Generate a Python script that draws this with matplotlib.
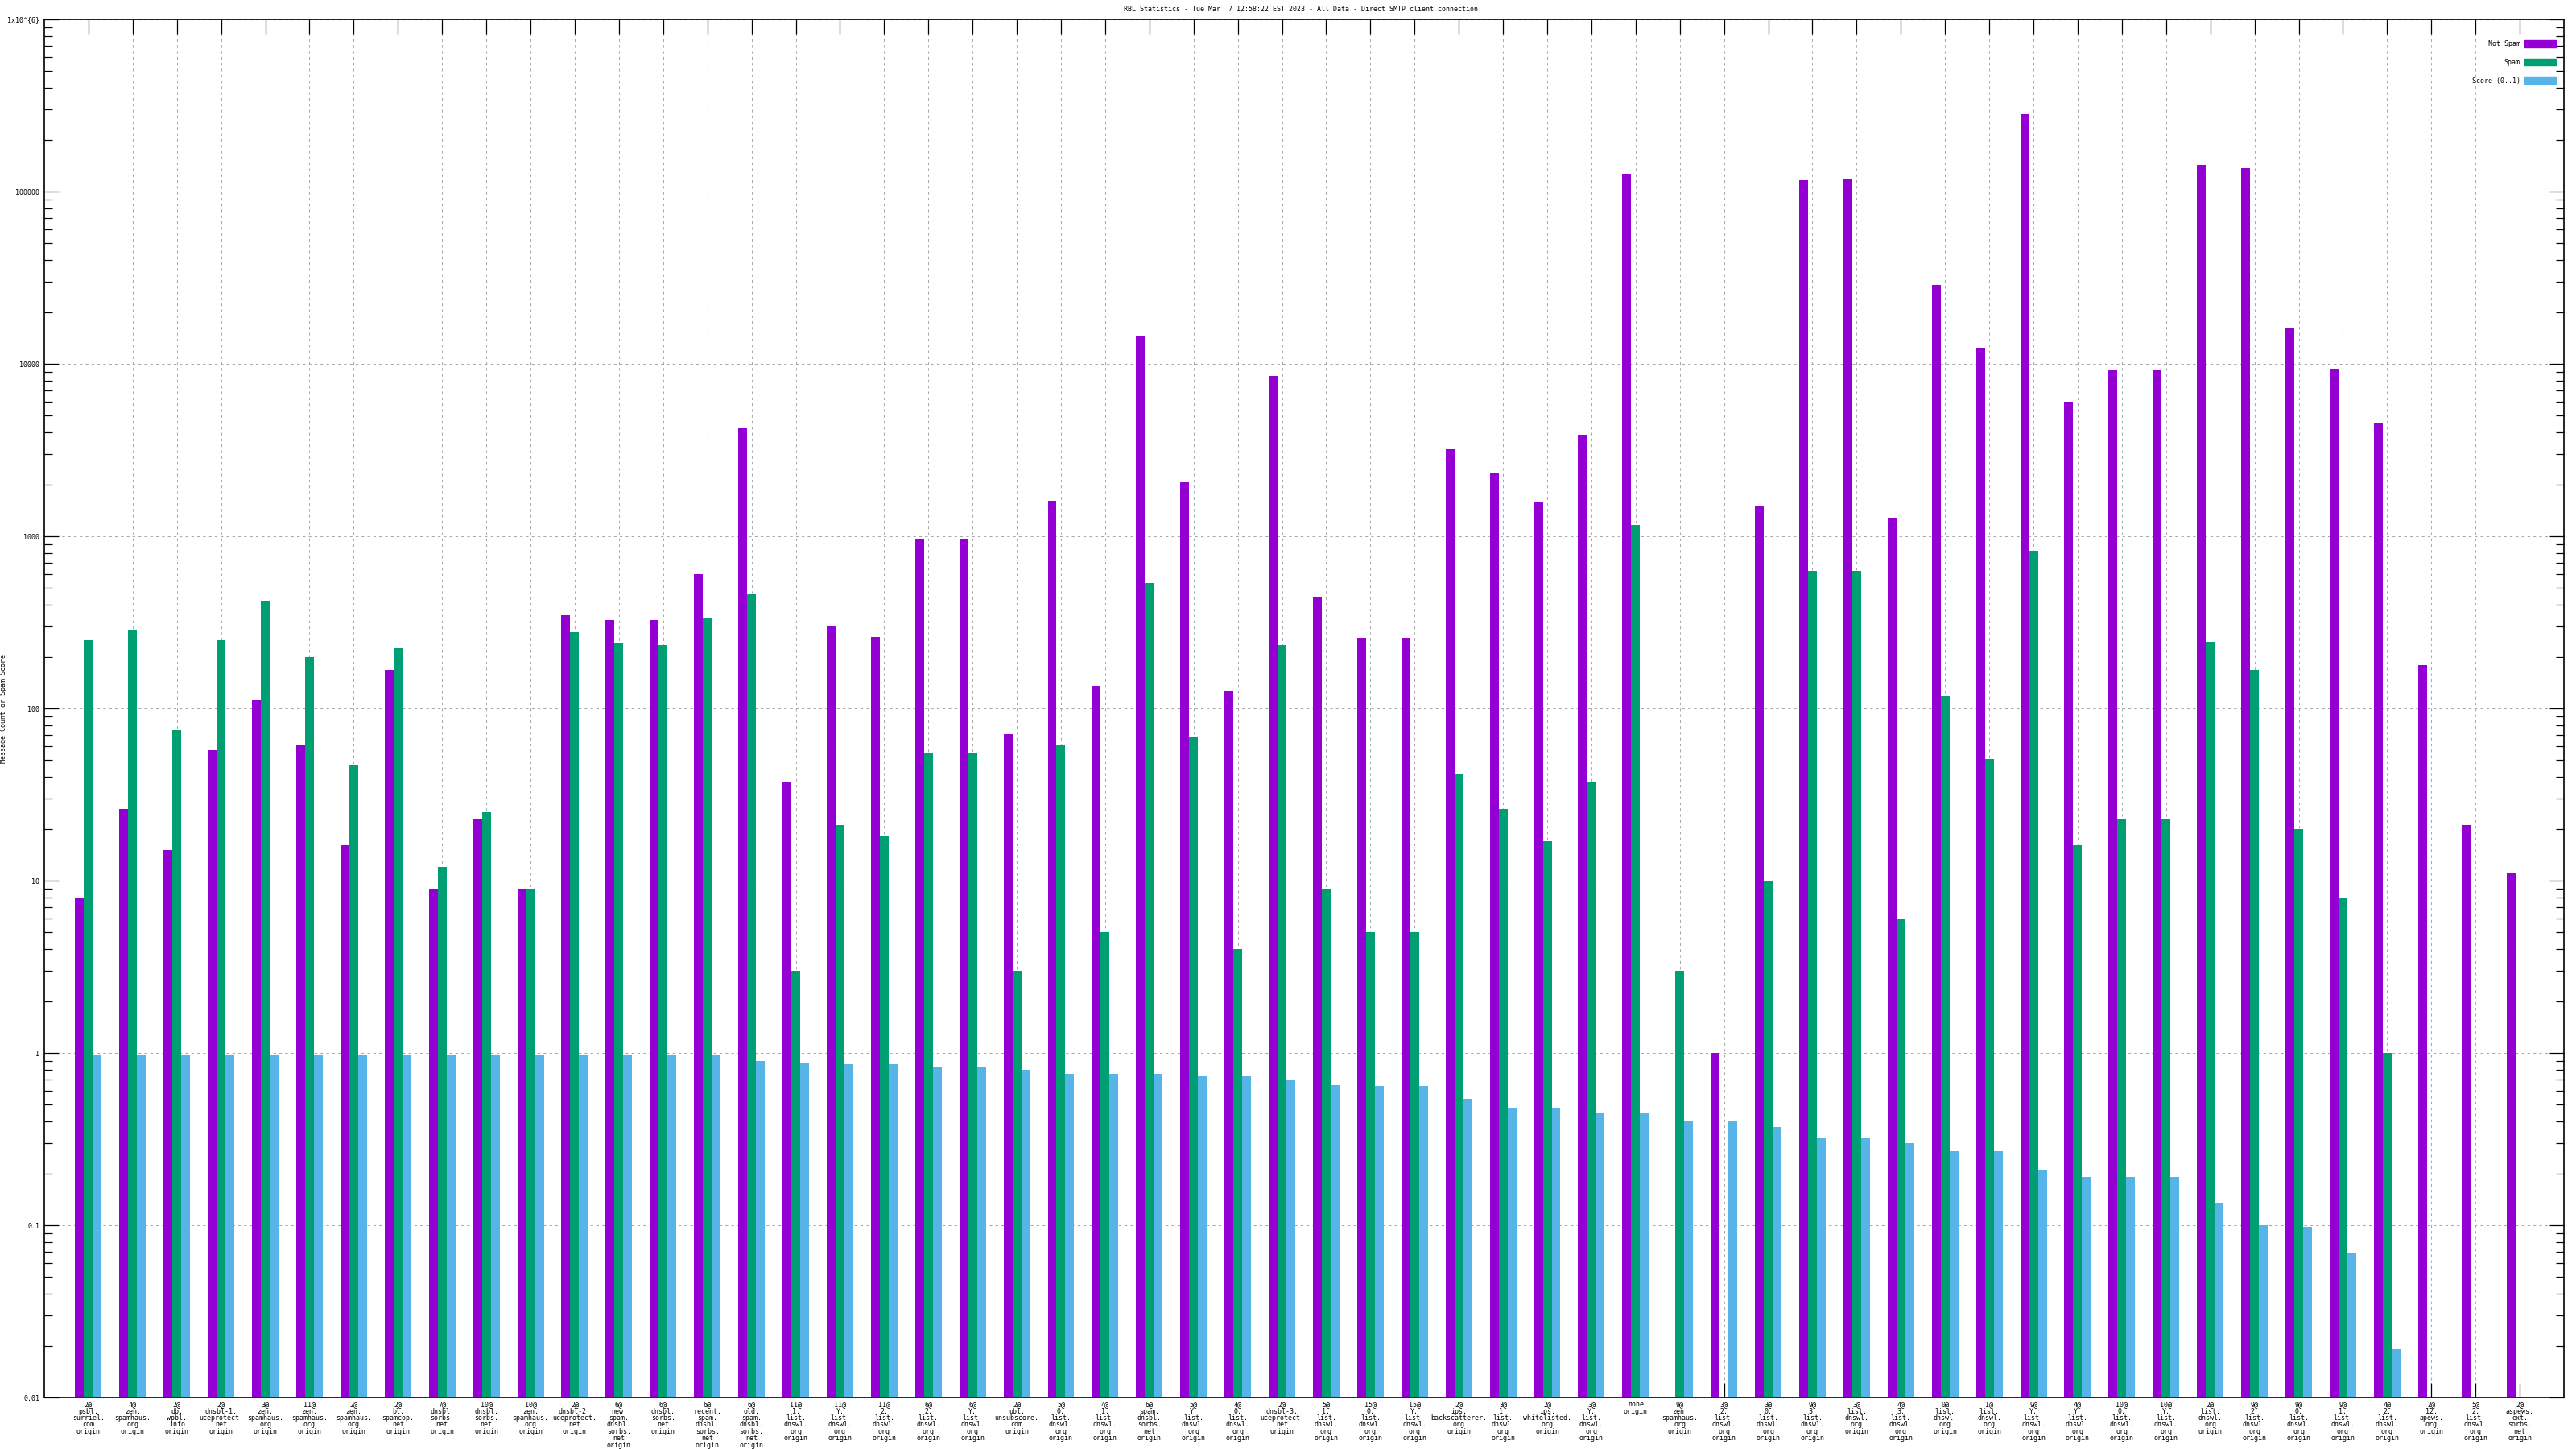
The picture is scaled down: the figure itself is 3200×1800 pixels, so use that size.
"""
RBL statistics bar chart (log scale)
"""

import matplotlib.pyplot as plt
import numpy as np
from matplotlib.patches import Patch
from matplotlib.ticker import LogLocator, NullFormatter

categories = [
    "2@\npsbl.\nsurriel.\ncom\norigin", "4@\nzen.\nspamhaus.\norg\norigin",
    "2@\ndb.\nwpbl.\ninfo\norigin", "2@\ndnsbl-1.\nuceprotect.\nnet\norigin",
    "3@\nzen.\nspamhaus.\norg\norigin", "11@\nzen.\nspamhaus.\norg\norigin",
    "2@\nzen.\nspamhaus.\norg\norigin", "2@\nbl.\nspamcop.\nnet\norigin",
    "7@\ndnsbl.\nsorbs.\nnet\norigin", "10@\ndnsbl.\nsorbs.\nnet\norigin",
    "10@\nzen.\nspamhaus.\norg\norigin", "2@\ndnsbl-2.\nuceprotect.\nnet\norigin",
    "6@\nnew.\nspam.\ndnsbl.\nsorbs.\nnet\norigin", "6@\ndnsbl.\nsorbs.\nnet\norigin",
    "6@\nrecent.\nspam.\ndnsbl.\nsorbs.\nnet\norigin", "6@\nold.\nspam.\ndnsbl.\nsorbs.\nnet\norigin",
    "11@\n1.\nlist.\ndnswl.\norg\norigin", "11@\nY.\nlist.\ndnswl.\norg\norigin",
    "11@\n2.\nlist.\ndnswl.\norg\norigin", "6@\n2.\nlist.\ndnswl.\norg\norigin",
    "6@\nY.\nlist.\ndnswl.\norg\norigin", "2@\nubl.\nunsubscore.\ncom\norigin",
    "5@\n0.\nlist.\ndnswl.\norg\norigin", "4@\n1.\nlist.\ndnswl.\norg\norigin",
    "6@\nspam.\ndnsbl.\nsorbs.\nnet\norigin", "5@\nY.\nlist.\ndnswl.\norg\norigin",
    "4@\n0.\nlist.\ndnswl.\norg\norigin", "2@\ndnsbl-3.\nuceprotect.\nnet\norigin",
    "5@\n1.\nlist.\ndnswl.\norg\norigin", "15@\n0.\nlist.\ndnswl.\norg\norigin",
    "15@\nY.\nlist.\ndnswl.\norg\norigin", "2@\nips.\nbackscatterer.\norg\norigin",
    "3@\n1.\nlist.\ndnswl.\norg\norigin", "2@\nips.\nwhitelisted.\norg\norigin",
    "3@\nY.\nlist.\ndnswl.\norg\norigin", "none\norigin",
    "9@\nzen.\nspamhaus.\norg\norigin", "3@\n2.\nlist.\ndnswl.\norg\norigin",
    "3@\n0.\nlist.\ndnswl.\norg\norigin", "9@\n3.\nlist.\ndnswl.\norg\norigin",
    "3@\nlist.\ndnswl.\norg\norigin", "4@\n3.\nlist.\ndnswl.\norg\norigin",
    "0@\nlist.\ndnswl.\norg\norigin", "1@\nlist.\ndnswl.\norg\norigin",
    "9@\nY.\nlist.\ndnswl.\norg\norigin", "4@\nY.\nlist.\ndnswl.\norg\norigin",
    "10@\n0.\nlist.\ndnswl.\norg\norigin", "10@\nY.\nlist.\ndnswl.\norg\norigin",
    "2@\nlist.\ndnswl.\norg\norigin", "9@\n2.\nlist.\ndnswl.\norg\norigin",
    "9@\n0.\nlist.\ndnswl.\norg\norigin", "9@\n1.\nlist.\ndnswl.\norg\norigin",
    "4@\n2.\nlist.\ndnswl.\norg\norigin", "2@\n12.\napews.\norg\norigin",
    "5@\n2.\nlist.\ndnswl.\norg\norigin", "2@\naspews.\next.\nsorbs.\nnet\norigin",
]

not_spam = [
    8, 26, 15, 57, 113, 61, 16, 168, 9, 23,
    9, 347, 325, 325, 600, 4240, 37, 300, 260, 973,
    973, 71, 1610, 135, 14500, 2050, 126, 8550, 441, 255,
    255, 3185, 2340, 1577, 3880, 127000, 0, 1, 1510, 116700,
    119000, 1268, 28600, 12400, 281000, 6030, 9140, 9140, 142000, 136000,
    16200, 9340, 4530, 179, 21, 11,
]

spam = [
    250, 284, 75, 250, 423, 200, 47, 223, 12, 25,
    9, 278, 239, 234, 332, 461, 3, 21, 18, 55,
    55, 3, 61, 5, 538, 68, 4, 234, 9, 5,
    5, 42, 26, 17, 37, 1160, 3, 0, 10, 627,
    627, 6, 118, 51, 817, 16, 23, 23, 244, 168,
    20, 8, 1, 0, 0, 0,
]

score = [
    0.98, 0.98, 0.98, 0.98, 0.98, 0.98, 0.98, 0.98, 0.98, 0.98,
    0.98, 0.97, 0.97, 0.97, 0.97, 0.90, 0.87, 0.86, 0.86, 0.83,
    0.83, 0.80, 0.76, 0.76, 0.76, 0.73, 0.73, 0.70, 0.65, 0.64,
    0.64, 0.54, 0.48, 0.48, 0.45, 0.45, 0.40, 0.40, 0.37, 0.32,
    0.32, 0.30, 0.27, 0.27, 0.21, 0.19, 0.19, 0.19, 0.134, 0.10,
    0.098, 0.069, 0.019, 0, 0, 0,
]

ytick_values = [0.01, 0.1, 1, 10, 100, 1000, 10000, 100000, 1000000]
ytick_labels = ["0.01", "0.1", "1", "10", "100", "1000", "10000", "100000", "1x10^{6}"]

series_names = ["Not Spam", "Spam", "Score (0..1)"]
colors = ["#9400d3", "#009e73", "#56b4e9"]

plt.rcParams['font.family'] = ['DejaVu Sans Mono']
FS = 6

fig = plt.figure(figsize=(32, 18), dpi=100)
ax = fig.add_axes([55 / 3200, 1 - 1736 / 1800, 3130 / 3200, 1712 / 1800])

x = np.arange(len(categories))
width = 0.2
for i, vals in enumerate([not_spam, spam, score]):
    vals = np.array(vals, dtype=float)
    vals[vals <= 0] = np.nan
    ax.bar(x + (i - 1) * width, vals, width=width, color=colors[i], zorder=2)

ax.set_yscale('log')
ax.set_ylim(0.01, 1e6)
ax.set_xlim(-1, len(categories))

ax.set_yticks(ytick_values, ytick_labels)
ax.yaxis.set_minor_locator(LogLocator(base=10, subs=np.arange(2, 10)))
ax.yaxis.set_minor_formatter(NullFormatter())
ax.set_xticks(x, categories)

ax.tick_params(axis='both', which='major', direction='in', length=13, width=0.9,
               labelsize=FS, top=True, right=True)
ax.tick_params(axis='y', which='minor', direction='in', length=7, width=0.9, right=True)
ax.tick_params(axis='x', pad=3)
ax.tick_params(axis='y', pad=4)
for lbl in ax.get_xticklabels():
    lbl.set_linespacing(0.92)

ax.grid(True, which='major', color='#a8a8a8', linestyle=(0, (3, 4)), linewidth=0.75, zorder=0)
ax.set_axisbelow(True)
for sp in ax.spines.values():
    sp.set_linewidth(1.2)

ax.set_ylabel('Message Count or Spam Score', fontsize=FS)
ax.yaxis.set_label_coords(-46 / 3130, 0.5)
fig.text(0.505, 1 - 11 / 1800, 'RBL Statistics - Tue Mar  7 12:58:22 EST 2023 - All Data - Direct SMTP client connection',
         ha='center', va='center', fontsize=FS)

handles = [Patch(color=c) for c in colors]
ax.legend(handles, series_names, loc='upper right', bbox_to_anchor=((3175 - 55) / 3130, 1 - 26 / 1712),
          markerfirst=False, frameon=False, fontsize=FS, handlelength=4.7, handleheight=1.2,
          labelspacing=1.65, handletextpad=0.6, borderpad=0, borderaxespad=0)

fig.savefig('out.png', dpi=100)
